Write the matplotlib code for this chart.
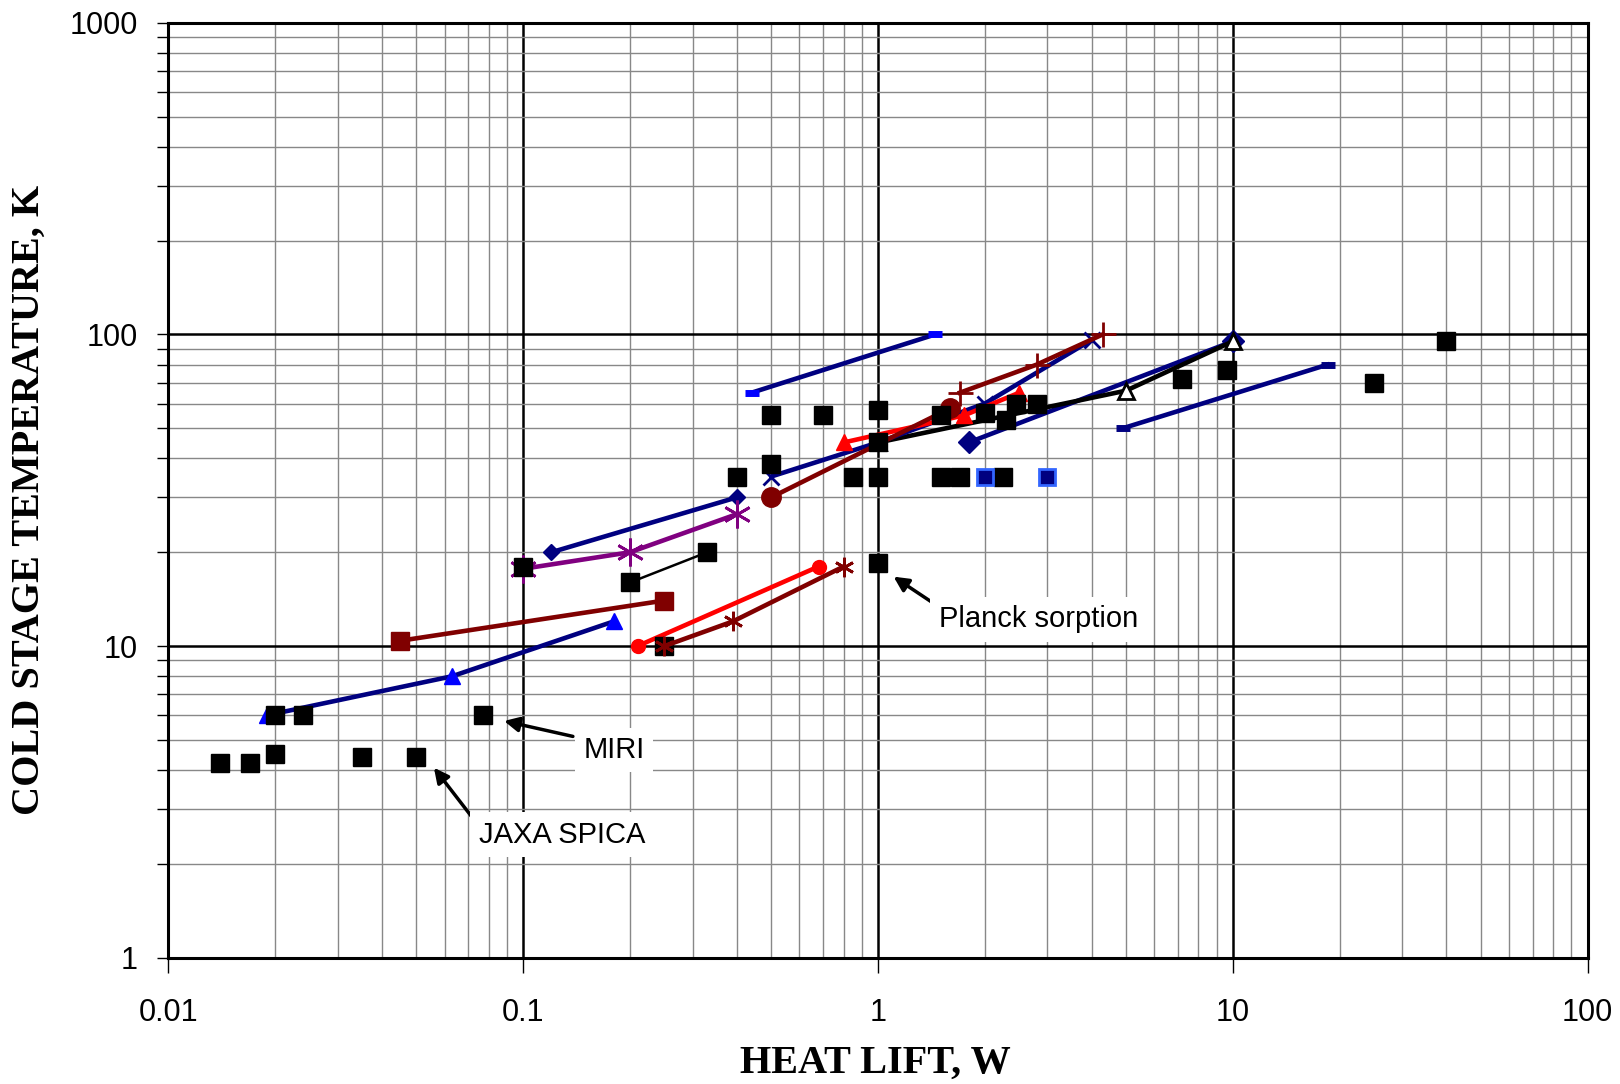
#!/usr/bin/env python3

import numpy as np
import matplotlib
matplotlib.use('Agg')
import matplotlib.pyplot as plt
from matplotlib.ticker import FixedLocator, NullFormatter

# single black squares (heat lift W, cold stage K)
sq_x = [0.014, 0.017, 0.02, 0.02, 0.024, 0.035, 0.05, 0.077, 0.1, 0.25,
        0.4, 0.5, 0.5, 0.7, 0.85, 1.0, 1.0, 1.0, 1.0, 1.5, 1.5, 1.7,
        2.0, 2.25, 2.3, 2.45, 2.8, 7.2, 9.6, 25, 40]
sq_y = [4.2, 4.2, 4.5, 6, 6, 4.4, 4.4, 6, 18, 10,
        35, 38.5, 55, 55, 35, 57, 45, 35, 18.5, 55, 35, 35,
        56, 35, 53, 60, 60, 72, 77, 70, 95]
bsq_x = [2.0, 3.0]
bsq_y = [35, 35]

# connected series
pair_x, pair_y = [0.2, 0.33], [16, 20]
dash1_x, dash1_y = [0.44, 1.45], [65, 100]
dash2_x, dash2_y = [4.9, 18.5], [50, 80]
dia_big_x, dia_big_y = [1.8, 10], [45, 95]
tri_open_x, tri_open_y = [1.0, 5.0, 10], [45, 66, 95]
xs_x, xs_y = [0.5, 1.0, 2.0, 4.0], [35, 45, 60, 96]
plus_x, plus_y = [1.7, 2.8, 4.3], [65, 80, 100]
rtri_x, rtri_y = [0.8, 1.75, 2.5], [45, 55, 65]
dcirc_x, dcirc_y = [0.5, 1.6], [30, 58]
dia_sm_x, dia_sm_y = [0.12, 0.4], [20, 30]
purp_x, purp_y = [0.1, 0.2, 0.4], [17.7, 20, 26.5]
dsq_x, dsq_y = [0.045, 0.25], [10.4, 14]
btri_x, btri_y = [0.019, 0.063, 0.18], [6, 8, 12]
rcirc_x, rcirc_y = [0.21, 0.68], [10, 18]
dast_x, dast_y = [0.25, 0.39, 0.8], [10, 12, 18]

xticks = [0.01, 0.1, 1, 10, 100]
xtick_labels = ['0.01', '0.1', '1', '10', '100']
yticks = [1, 10, 100, 1000]
ytick_labels = ['1', '10', '100', '1000']

navy = '#000080'
dred = '#800000'
red = '#FF0000'
purple = '#800080'
blue = '#0000FF'

fig = plt.figure(figsize=(16.2, 10.84), dpi=100)
ax = fig.add_axes([0.104, 0.1165, 0.876, 0.8625])
ax.set_xscale('log')
ax.set_yscale('log')
ax.set_xlim(0.01, 100)
ax.set_ylim(1, 1000)

minor_x = [m * 10.0**e for e in range(-2, 2) for m in range(2, 10)]
minor_y = [m * 10.0**e for e in range(0, 3) for m in range(2, 10)]
ax.xaxis.set_major_locator(FixedLocator(xticks))
ax.xaxis.set_minor_locator(FixedLocator(minor_x))
ax.yaxis.set_major_locator(FixedLocator(yticks))
ax.yaxis.set_minor_locator(FixedLocator(minor_y))
ax.set_xticklabels(xtick_labels)
ax.set_yticklabels(ytick_labels)
ax.xaxis.set_minor_formatter(NullFormatter())
ax.yaxis.set_minor_formatter(NullFormatter())

ax.grid(which='major', color='black', lw=1.8, zorder=0)
ax.grid(which='minor', color='#888888', lw=1.0, zorder=0)
ax.set_axisbelow(True)
for s in ax.spines.values():
    s.set_linewidth(2.2)

ax.tick_params(axis='x', which='major', length=11, width=1, pad=18,
               labelsize=22, direction='out')
ax.tick_params(axis='x', which='minor', length=0)
ax.tick_params(axis='y', which='both', length=8, width=1, pad=14,
               labelsize=22, direction='out')
for lab in ax.get_xticklabels() + ax.get_yticklabels():
    lab.set_family(['Liberation Sans', 'DejaVu Sans'])

lw = 3.3
ax.plot(dash1_x, dash1_y, color=navy, lw=lw, marker='_', ms=10, mew=5,
        mec=blue, zorder=3)
ax.plot(dash2_x, dash2_y, color=navy, lw=lw, marker='_', ms=10, mew=5,
        mec=navy, zorder=3)
ax.plot(dia_big_x, dia_big_y, color=navy, lw=lw, marker='D', ms=11,
        mfc=navy, mec=navy, zorder=3)
ax.plot(tri_open_x, tri_open_y, color='black', lw=lw, marker='^', ms=12,
        mfc='white', mec='black', mew=2, zorder=3)
ax.plot(xs_x, xs_y, color=navy, lw=lw, marker='x', ms=12, mew=2,
        zorder=3, markevery=[0, 2, 3])
ax.plot(plus_x, plus_y, color=dred, lw=lw, marker='+', ms=18, mew=2,
        zorder=3)
ax.plot(rtri_x, rtri_y, color=red, lw=lw, marker='^', ms=12, zorder=3)
ax.plot(dcirc_x, dcirc_y, color=dred, lw=lw, marker='o', ms=14, zorder=3)
ax.plot(dia_sm_x, dia_sm_y, color=navy, lw=lw, marker='D', ms=8, zorder=3)
ax.plot(purp_x, purp_y, color=purple, lw=lw, marker=(6, 2, 0), ms=20,
        mew=2, zorder=3)
ax.plot(dsq_x, dsq_y, color=dred, lw=lw, marker='s', ms=13, zorder=3)
ax.plot(btri_x, btri_y, color=navy, lw=lw, marker='^', ms=11, mfc=blue,
        mec=blue, zorder=3)
ax.plot(rcirc_x, rcirc_y, color=red, lw=lw, marker='o', ms=10, zorder=3)
ax.plot(pair_x, pair_y, color='black', lw=1.8, marker='s', ms=13, zorder=4)

ax.plot(sq_x, sq_y, ls='none', marker='s', ms=13, color='black', zorder=4)
ax.plot(bsq_x, bsq_y, ls='none', marker='s', ms=12, mfc=navy,
        mec='#3366FF', mew=2, zorder=4)
ax.plot(dast_x, dast_y, color=dred, lw=lw, marker=(6, 2, 0), ms=14, mew=2,
        zorder=5)

txt_kw = dict(fontsize=21, family=['Liberation Sans', 'DejaVu Sans'],
              ha='center', va='center',
              bbox=dict(facecolor='white', edgecolor='none', pad=6))
arr = dict(arrowstyle='-|>', color='black', lw=2.5, mutation_scale=22,
           shrinkA=0, shrinkB=0)
ax.annotate('', xy=(1.106, 16.7), xytext=(1.45, 13.6), arrowprops=arr,
            zorder=6)
ax.text(2.83, 12.2, 'Planck sorption', zorder=6, **txt_kw)
ax.annotate('', xy=(0.0883, 5.75), xytext=(0.138, 5.13), arrowprops=arr,
            zorder=6)
ax.text(0.18, 4.64, 'MIRI', zorder=6, **txt_kw)
ax.annotate('', xy=(0.056, 4.07), xytext=(0.0713, 2.85), arrowprops=arr,
            zorder=6)
ax.text(0.1285, 2.48, 'JAXA SPICA', zorder=6, **txt_kw)

lab_font = dict(fontsize=29, fontweight='bold',
                family=['Liberation Serif', 'DejaVu Serif'])
fig.text(0.5405, 1 - 1063 / 1084, 'HEAT LIFT, W', ha='center', va='center',
         **lab_font)
fig.text(29 / 1620, 1 - 499.5 / 1084, 'COLD STAGE TEMPERATURE, K',
         rotation=90, ha='center', va='center', **lab_font)

fig.savefig('out.png', dpi=100)
